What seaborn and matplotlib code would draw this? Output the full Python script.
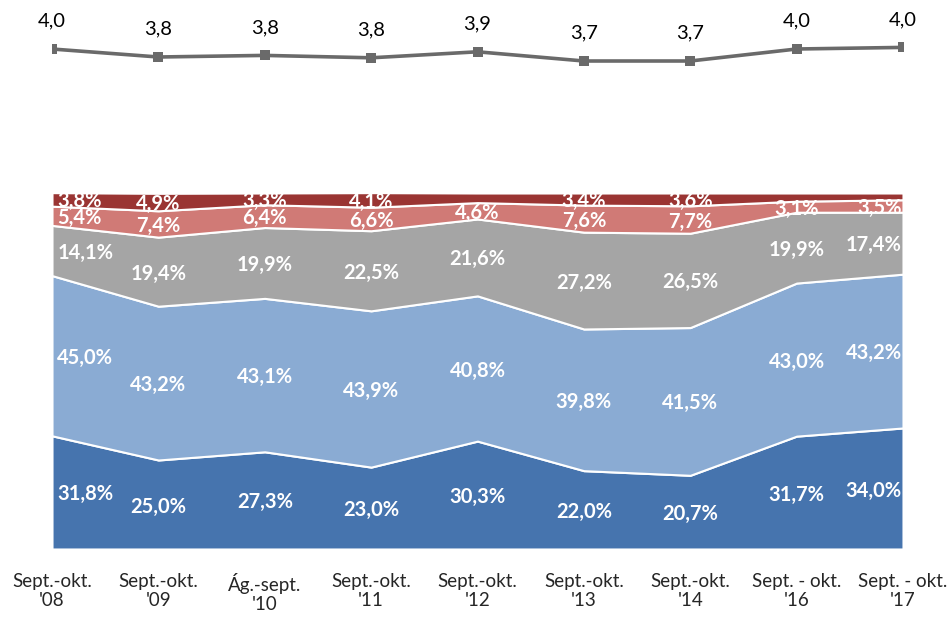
import numpy as np
import matplotlib
matplotlib.use("Agg")
import matplotlib.pyplot as plt
import seaborn as sns

# Periods (x-axis)
periods = ["Sept.-okt.\n'08", "Sept.-okt.\n'09", "Ág.-sept.\n'10", "Sept.-okt.\n'11",
           "Sept.-okt.\n'12", "Sept.-okt.\n'13", "Sept.-okt.\n'14", "Sept. - okt.\n'16",
           "Sept. - okt.\n'17"]

# Stacked shares (%), bottom to top
share_1 = [31.8, 25.0, 27.3, 23.0, 30.3, 22.0, 20.7, 31.7, 34.0]
share_2 = [45.0, 43.2, 43.1, 43.9, 40.8, 39.8, 41.5, 43.0, 43.2]
share_3 = [14.1, 19.4, 19.9, 22.5, 21.6, 27.2, 26.5, 19.9, 17.4]
share_4 = [5.4, 7.4, 6.4, 6.6, 4.6, 7.6, 7.7, 3.1, 3.5]
share_5 = [3.8, 4.9, 3.3, 4.1, 2.7, 3.4, 3.6, 2.3, 1.9]

# Average score (top line)
average = [4.0, 3.8, 3.84, 3.78, 3.93, 3.7, 3.7, 4.0, 4.04]

colors = ["#4674AE", "#8AABD3", "#A5A5A5", "#D07A76", "#9A3533"]

sns.set_style("white")
plt.rcParams["font.family"] = ["Lato", "DejaVu Sans"]

fig = plt.figure(figsize=(9.52, 6.19), dpi=100)
W, H = 952, 619
x0, x1 = 52, 903
ax = fig.add_axes([x0 / W, (H - 549) / H, (x1 - x0) / W, (549 - 193) / H])
ax_top = fig.add_axes([x0 / W, (H - 193) / H, (x1 - x0) / W, 193 / H])

x = np.arange(len(periods))
layers = [share_1, share_2, share_3, share_4, share_5]
ax.stackplot(x, *layers, colors=colors, edgecolor="white", linewidth=1.5)
ax.set_xlim(0, len(periods) - 1)
ax.set_ylim(0, 100)
ax.set_yticks([])
ax.set_xticks(x)
ax.set_xticklabels(periods, fontsize=13.5, linespacing=1.2)
ax.tick_params(axis="x", length=0, pad=17)
for s in ax.spines.values():
    s.set_visible(False)

# data labels in the middle of each layer
bottom = np.zeros(len(x))
for vals in layers:
    vals = np.array(vals)
    mid = bottom + vals / 2
    for i, v in enumerate(vals):
        if v < 3.0:
            continue
        ha, xi = "center", x[i]
        if i == 0:
            ha, xi = "left", x[i] + 0.05
        elif i == len(x) - 1:
            ha, xi = "right", x[i] - 0.01
        ax.text(xi, mid[i], f"{v:.1f}%".replace(".", ","), ha=ha,
                va="center_baseline", color="white", fontsize=14.5,
                fontweight="bold", clip_on=True)
    bottom += vals

# average line on top
sns.lineplot(x=x, y=average, ax=ax_top, color="#6A6A6A", linewidth=2.6,
             marker="s", markersize=6.5, markeredgewidth=0)
for i, v in enumerate(average):
    ax_top.text(x[i], v + 0.7, f"{v:.1f}".replace(".", ","), ha="center",
                va="center", fontsize=14.5, color="black")
ax_top.set_xlim(0, len(periods) - 1)
ax_top.set_ylim(0.4, 5.225)
ax_top.axis("off")

fig.savefig("out.png", dpi=100)
